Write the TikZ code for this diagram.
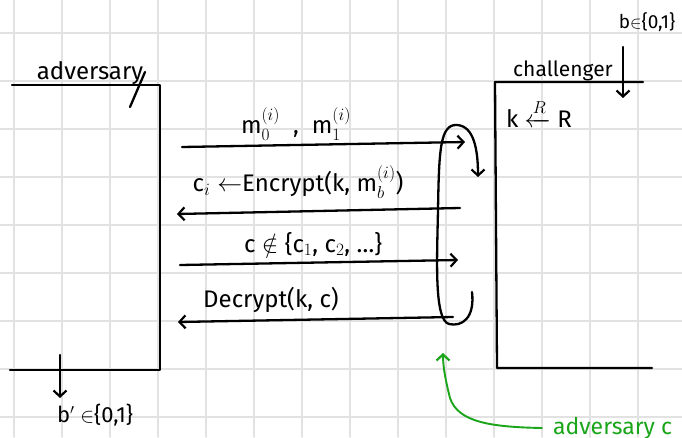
\documentclass[tikz,border=0pt]{standalone}
\usepackage{amsmath,amssymb}
\usepackage{fontspec}
\setmainfont{Fira Sans}
\usetikzlibrary{arrows.meta}
\definecolor{gridgray}{HTML}{E2E2E2}
\definecolor{pengreen}{HTML}{1AA51A}
\begin{document}
\begin{tikzpicture}[x=1pt,y=-1pt, line cap=round, line join=round,
  ink/.style={line width=2.3pt, black},
  gridline/.style={line width=1.6pt, gridgray},
  tip/.style={-{Straight Barb[length=6pt,width=13pt,line width=2.2pt]}},
  lbl/.style={font=\fontsize{24}{28}\selectfont, inner sep=0pt},
  small/.style={font=\fontsize{19}{22}\selectfont, inner sep=0pt}]
\useasboundingbox (0,0) rectangle (682,437);
\fill[white] (0,0) rectangle (682,437);
\foreach \x in {14,62,...,638} \draw[gridline] (\x,0) -- (\x,437);
\foreach \y in {33,81,...,417} \draw[gridline] (0,\y) -- (682,\y);

% adversary lifeline box
\coordinate (aTL) at (12,85);
\coordinate (aTR) at (160,85);
\coordinate (aBR) at (160,370);
\coordinate (aBL) at (10,370);
\draw[ink] (aTL) -- (aTR) -- (aBR) -- (aBL);
\node[lbl, anchor=base] (adv) at (90,79) {adversary};
\coordinate (s1) at (145,72);
\coordinate (s2) at (130,107);
\draw[ink] (s1) -- (s2);

% challenger lifeline box
\coordinate (cTR) at (643,82);
\coordinate (cTL) at (495,82);
\coordinate (cBL) at (497,368);
\coordinate (cBR) at (652,368);
\draw[ink] (cTR) -- (cTL) -- (cBL) -- (cBR);
\node[font=\fontsize{21}{24}\selectfont, inner sep=0pt, anchor=base] (chal) at (563,76) {challenger};
\node[small] (b) at (647,22) {b$\in$\{0,1\}};
\coordinate (bend) at (623,98);
\draw[ink,tip] (623,47) -- (bend);
\node[lbl] (key) at (539,113) {k $\xleftarrow{\scriptstyle R}$ R};

% adversary output
\node[font=\fontsize{22}{26}\selectfont, inner sep=0pt] (bp) at (95,415) {b$'\in$\{0,1\}};
\coordinate (bp0) at (60,355);
\coordinate (bp1) at (60,398);
\draw[ink,tip] (bp0) -- (bp1);

% messages
\coordinate (m1a) at (182,147); \coordinate (m1b) at (465,142);
\draw[ink,tip] (m1a) -- (m1b);
\node[lbl] (l1) at (296,124) {m$_0^{(i)}$ \;,\; m$_1^{(i)}$};

\coordinate (m2a) at (460,208); \coordinate (m2b) at (177,214);
\draw[ink,tip] (m2a) -- (m2b);
\node[lbl] (l2) at (298,182) {c$_i\leftarrow$Encrypt(k, m$_b^{(i)}$)};

\coordinate (m3a) at (180,265); \coordinate (m3b) at (458,260);
\draw[ink,tip] (m3a) -- (m3b);
\node[lbl] (l3) at (313,244) {c $\notin$ \{c$_1$, c$_2$, \dots\}};

\coordinate (m4a) at (453,317); \coordinate (m4b) at (178,322);
\draw[ink,tip] (m4a) -- (m4b);
\node[lbl] (l4) at (271,300) {Decrypt(k, c)};

% loop
\coordinate (lp0) at (472,292);
\coordinate (lp1) at (478,177);
\draw[ink,tip] (lp0) .. controls (475,318) and (462,327) .. (449,324)
  .. controls (434,320) and (437,260) .. (438,210)
  .. controls (439,150) and (440,124) .. (457,125)
  .. controls (474,126) and (478,150) .. (lp1);

% green annotation
\node[font=\fontsize{23}{26}\selectfont, text=pengreen, inner sep=0pt, anchor=base west] (ann) at (553,434) {adversary c};
\coordinate (g0) at (542,428);
\coordinate (g1) at (443,353);
\draw[pengreen, line width=1.9pt, tip] (g0) .. controls (490,427) and (458,422) .. (450,398)
  .. controls (446,382) and (443,368) .. (g1);
\end{tikzpicture}
\end{document}
